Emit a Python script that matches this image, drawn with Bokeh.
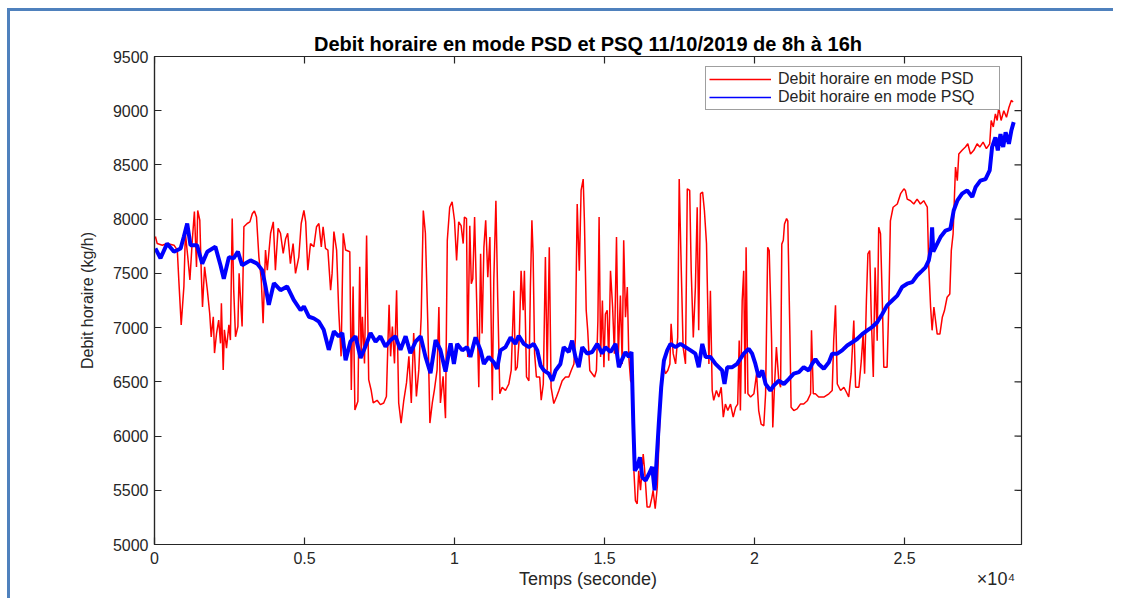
import math
from bokeh.plotting import figure
from bokeh.models import Range1d, FixedTicker, Legend, LegendItem, Title, LinearAxis
from bokeh.embed import file_html
from bokeh.resources import INLINE

FONT = "Liberation Sans"

title_text = "Debit horaire en mode PSD et PSQ 11/10/2019 de 8h à 16h"
x_label = "Temps (seconde)"
y_label = "Debit horaire (kg/h)"
psd_label = "Debit horaire en mode PSD"
psq_label = "Debit horaire en mode PSQ"
x_exponent = "×10⁴"

x_ticks = [0, 5000, 10000, 15000, 20000, 25000]
x_tick_labels = ["0", "0.5", "1", "1.5", "2", "2.5"]
y_ticks = [5000, 5500, 6000, 6500, 7000, 7500, 8000, 8500, 9000, 9500]

# PSD (red) — time in seconds, flow in kg/h
red_time = [
    30, 90, 260, 420, 650, 760, 810, 890, 980, 1030,
    1110, 1180, 1260, 1330, 1400, 1440, 1510, 1560, 1600, 1670,
    1760, 1840, 1890, 1960, 2000, 2070, 2140, 2200, 2230, 2290,
    2330, 2400, 2480, 2530, 2590, 2640, 2700, 2780, 2820, 2870,
    2920, 2980, 3090, 3180, 3260, 3330, 3400, 3480, 3560, 3620,
    3700, 3760, 3870, 3960, 4030, 4120, 4200, 4290, 4370, 4440,
    4530, 4620, 4700, 4810, 4890, 4980, 5040,
    5110, 5200, 5310, 5400, 5480, 5560, 5620, 5700, 5780, 5870,
    5920, 5980, 6070, 6140, 6220, 6290, 6370, 6510, 6560, 6620,
    6680, 6780, 6840, 6890, 6930, 7000, 7070, 7140, 7220, 7290,
    7420, 7530, 7640, 7730, 7780, 7820, 7870, 7930, 8000, 8070,
    8140, 8220, 8310, 8400, 8480, 8560, 8640, 8730, 8810, 8890,
    8960, 9030, 9110, 9180, 9260, 9330, 9420, 9480, 9530, 9620,
    9700, 9760, 9840, 9920,
    10000, 10070, 10140, 10220, 10290, 10330, 10400, 10440, 10510, 10560,
    10610, 10670, 10730, 10810, 10870, 10920, 10980, 11040, 11110, 11180,
    11260, 11310, 11380, 11440, 11510, 11590, 11700, 11810, 11890, 11980,
    12030, 12090, 12160, 12220, 12290, 12330, 12400, 12480, 12530, 12580,
    12620, 12670, 12730, 12840, 12890, 12960, 13030, 13090, 13160, 13220,
    13310, 13400, 13480, 13590, 13700, 13810, 13890, 13980, 14030, 14090,
    14160, 14220, 14290, 14330, 14390, 14440, 14510, 14590, 14670, 14730,
    14780, 14820, 14870, 14930, 14980, 15030, 15090, 15140, 15200, 15270,
    15330, 15400, 15460, 15530, 15590, 15640, 15700, 15760, 15810, 15870,
    15930, 15980, 16030, 16090, 16140, 16200, 16290, 16340, 16420, 16510,
    16580, 16620, 16690, 16760, 16820, 16890, 16960, 17030, 17110, 17180,
    17220, 17290, 17370, 17440, 17490, 17560, 17620, 17700, 17760, 17840,
    17890, 17960, 18030, 18090, 18140, 18200, 18270, 18330, 18400, 18480,
    18530, 18590, 18640, 18730, 18810, 18890, 18960, 19030, 19110, 19200,
    19290, 19370, 19440, 19490,
    19530, 19590, 19640, 19690, 19720, 19780, 19870, 19980, 20070, 20140,
    20220, 20310, 20370, 20440, 20490, 20530, 20570, 20610, 20670, 20730,
    20810, 20870, 20910, 20960, 21000, 21070, 21110, 21180, 21220, 21310,
    21420, 21530, 21640, 21760, 21870, 21900, 21960, 22030, 22140, 22310,
    22480, 22590, 22640, 22700, 22760, 22870, 22980, 23090, 23140, 23220,
    23310, 23370, 23480, 23560, 23620, 23670, 23730, 23780, 23840, 23890,
    23960, 24020, 24090, 24140, 24200, 24260, 24310, 24420, 24480, 24530,
    24620, 24760, 24870, 24980, 25030, 25090, 25200, 25310, 25420, 25530,
    25640, 25760, 25810, 25870, 25920, 25980, 26090, 26180, 26260, 26330,
    26420, 26510, 26560, 26620, 26700, 26760, 26810, 26920, 27030, 27110,
    27200, 27310, 27420, 27510, 27620, 27730, 27840, 27890, 27960, 28030,
    28090, 28140, 28220, 28310, 28400, 28480, 28560, 28620,
]
red_flow = [
    7840, 7775, 7760, 7775, 7760, 7715, 7440, 7025, 7380, 7870,
    7650, 7440, 7805, 8070, 7560, 8080, 7990, 7500, 7190, 7560,
    7350, 7130, 6915, 7100, 6765, 6950, 7070, 6855, 7225, 6610,
    6980, 6810, 7025, 6885, 8005, 7350, 6915, 7010, 7500, 7255,
    7010, 7930, 7960, 7975, 8050, 8075, 8020, 7650, 7440, 7040,
    7715, 7530, 7870, 7975, 7530, 7915, 7870, 7685, 7820, 7870,
    7590, 7775, 7500, 7650, 7960, 8080, 7975,
    7530, 7775, 7745, 7930, 7960, 7745, 7930, 7730, 7715, 7345,
    7500, 7885, 7715, 7160, 6735, 7870, 7715, 7700, 6425, 7380,
    6240, 6320, 7560, 6735, 7100, 6670, 7850, 6520, 6425, 6305,
    6330, 6290, 6305, 6365, 6855, 7210, 6735, 7010, 6670, 7345,
    6305, 6120, 6330, 6490, 6735, 6305, 6950, 6365, 6610, 7100,
    8080, 7870, 7040, 6120, 6305, 6425, 6610, 7190, 6305, 6550,
    6165, 7805, 8110, 8160,
    7990, 7620, 7975, 7940, 7775, 8020, 8005, 6730, 7940, 7405,
    7450, 8020, 7340, 6450, 7680, 6945, 7740, 7990, 7465, 7835,
    6330, 7435, 8170, 7280, 6390, 6450, 6420, 6480, 6605, 7340,
    6605, 6635, 6910, 7525, 7160, 7525, 6545, 6510, 7375, 7990,
    7680, 6760, 6545, 6545, 6330, 6480, 7650, 6605, 7740, 6450,
    6300, 6360, 6420, 6510, 6545, 6545, 6605, 6665, 6910, 8140,
    7525, 8265, 8370, 7990, 7160, 6975, 6605, 6575, 6545, 6605,
    7065, 8020, 6730, 7250, 6635, 7125, 7160, 6695, 7525, 7190,
    6760, 7835, 6730, 7295, 6665, 7805, 7095, 7375, 6730, 6510,
    6480, 5680, 5405, 5375, 5680, 5500, 5835, 5680, 5345, 5345,
    5435, 5500, 5330, 5530, 5990, 6450, 6665, 6575, 6605, 6665,
    7035, 6760, 6665, 6910, 8370, 7525, 6820, 6665, 8280, 8265,
    7525, 6910, 7375, 8110, 6975, 8235, 8250, 8080, 7775, 6665,
    7340, 6420, 6330, 6420, 6360, 6450, 6175, 6295, 6235, 6295,
    6175, 6265, 6295, 6880,
    6235, 7250, 7525, 6390, 7740, 6390, 6360, 6390, 6575, 6235,
    6110, 6095, 6390, 7740, 7710, 7310, 6880, 6080, 6480, 6820,
    6510, 6450, 7770, 7805, 7955, 8005, 7985, 6940, 6265, 6235,
    6250, 6295, 6295, 6325, 6390, 6975, 6390, 6390, 6360, 6360,
    6390, 6420, 6880, 7205, 6480, 6420, 6450, 6390, 6360, 6575,
    7065, 6450, 6450, 6695, 6940, 6575, 7250, 7680, 7710, 7125,
    6545, 7555, 6880, 7925, 7865, 7250, 6635, 6635, 7250, 7985,
    8110, 8140, 8235, 8280, 8265, 8185, 8170, 8140, 8185, 8140,
    8170, 8110, 7555, 7190, 6975, 7190, 6940, 6940, 7095, 7155,
    7280, 7310, 7710, 7865, 8480, 8355, 8600, 8635, 8665, 8695,
    8600, 8635, 8695, 8665, 8710, 8650, 8695, 8910, 8850, 8970,
    8910, 9030, 8910, 9000, 8940, 9030, 9095, 9080,
]

# PSQ (blue)
blue_time = [
    30, 200, 420, 650, 870, 980, 1090, 1200, 1420, 1590,
    1760, 2030, 2200, 2310, 2480, 2640, 2780, 2920, 3200, 3420,
    3590, 3700, 3810, 3980, 4200, 4420, 4640, 4870,
    4980, 5150, 5310, 5480, 5640, 5810, 5980, 6140, 6260, 6370,
    6530, 6700, 6870, 7030, 7200, 7370, 7530, 7700, 7870, 8030,
    8200, 8370, 8530, 8700, 8870, 9030, 9200, 9370, 9530, 9700, 9870,
    9980, 10090, 10260, 10420, 10530, 10700, 10870, 10980, 11140, 11310,
    11420, 11530, 11700, 11870, 12030, 12140, 12310, 12480, 12640, 12760,
    12870, 12980, 13140, 13260, 13370, 13530, 13640, 13810, 13920, 14030,
    14140, 14260, 14420, 14590, 14760, 14920, 15030, 15200, 15370, 15480,
    15590, 15700, 15810, 15900, 15960, 16010, 16090, 16180, 16260, 16370,
    16480, 16590, 16670, 16730, 16810, 16890, 16980, 17090, 17200, 17370,
    17530, 17700, 17870, 18030, 18140, 18260, 18370, 18530, 18700, 18810,
    18920, 19000, 19090, 19260, 19420,
    19640, 19810, 19920, 20030, 20140, 20260, 20370, 20530, 20640, 20810,
    20980, 21140, 21310, 21480, 21640, 21810, 21920, 22030, 22140, 22310,
    22480, 22590, 22760, 22920, 23090, 23260, 23420, 23590, 23760, 23920,
    24090, 24260, 24420, 24590, 24760, 24920, 25090, 25260, 25420, 25590,
    25700, 25810, 25890, 25920, 25960, 26030, 26200, 26370, 26530, 26640,
    26760, 26920, 27090, 27260, 27370, 27530, 27700, 27840, 27920, 28030,
    28110, 28200, 28290, 28370, 28480, 28560, 28640,
]
blue_flow = [
    7730, 7640, 7775, 7700, 7730, 7840, 7960, 7760, 7760, 7590,
    7700, 7745, 7575, 7450, 7650, 7640, 7700, 7575, 7620, 7590,
    7530, 7380, 7210, 7410, 7345, 7380, 7255, 7160,
    7195, 7100, 7085, 7055, 6980, 6795, 6965, 6920, 6950, 6700,
    6870, 6920, 6720, 6825, 6950, 6870, 6920, 6825, 6885, 6920,
    6795, 6920, 6765, 6870, 6920, 6735, 6580, 6885, 6795, 6595, 6855,
    6665, 6850, 6790, 6820, 6730, 6910, 6790, 6665, 6730, 6680,
    6620, 6790, 6820, 6910, 6850, 6925, 6850, 6820, 6850, 6790,
    6650, 6605, 6575, 6510, 6605, 6665, 6820, 6775, 6880, 6730,
    6635, 6820, 6760, 6775, 6850, 6760, 6820, 6775, 6850, 6635,
    6710, 6775, 6730, 6775, 6115, 5680, 5715, 5805, 5620, 5590,
    5650, 5715, 5500, 5745, 6115, 6450, 6695, 6790, 6850, 6820,
    6850, 6820, 6790, 6760, 6635, 6850, 6730, 6730, 6665, 6635,
    6605, 6480, 6635, 6635, 6665,
    6760, 6805, 6760, 6665, 6545, 6605, 6480, 6420, 6465, 6510,
    6480, 6525, 6575, 6590, 6635, 6605, 6665, 6710, 6665, 6620,
    6680, 6760, 6760, 6790, 6835, 6865, 6895, 6940, 6975, 7005,
    7050, 7125, 7205, 7250, 7295, 7375, 7405, 7420, 7480, 7525,
    7555, 7620, 7740, 7925, 7700, 7740, 7835, 7895, 7910, 8080,
    8170, 8235, 8265, 8205, 8295, 8355, 8370, 8450, 8665, 8755,
    8635, 8785, 8665, 8800, 8695, 8815, 8895,
]

assert len(red_time) == len(red_flow)
assert len(blue_time) == len(blue_flow)

X_MIN, X_MAX = 0, 28900
Y_MIN, Y_MAX = 5000, 9500
DARK = "#262626"
RED = "#ff0000"
BLUE = "#0000ff"

p = figure(width=1106, height=590, output_backend="svg", toolbar_location=None,
           x_range=Range1d(X_MIN, X_MAX), y_range=Range1d(Y_MIN, Y_MAX),
           min_border_left=144, min_border_right=95, min_border_top=45, min_border_bottom=57,
           background_fill_color="white", border_fill_color="white")
p.outline_line_color = DARK
p.outline_line_width = 1.2
p.grid.grid_line_color = None
p.styles = {"border-top": "3px solid #4f81bd", "border-left": "3px solid #4f81bd",
            "margin-left": "7px", "margin-top": "8px"}

x_overrides = {t: lab for t, lab in zip(x_ticks, x_tick_labels)}

def style_axis(ax):
    ax.axis_line_color = DARK
    ax.axis_line_width = 1.2
    ax.major_tick_line_color = DARK
    ax.major_tick_line_width = 1.2
    ax.major_tick_in = 7
    ax.major_tick_out = 0
    ax.minor_tick_line_color = None
    ax.major_label_text_font = FONT
    ax.major_label_text_color = DARK
    ax.major_label_text_font_size = "16px"
    ax.axis_label_text_font = FONT
    ax.axis_label_text_font_style = "normal"
    ax.axis_label_text_color = DARK

xb = p.xaxis[0]
xb.ticker = FixedTicker(ticks=x_ticks)
xb.major_label_overrides = x_overrides
style_axis(xb)
xb.major_label_standoff = 7

# second row under the tick labels: axis title centred on the frame, exponent at the right end
x_title_pos = (X_MIN + X_MAX) / 2
x_exp_pos = 28050
xt = LinearAxis(ticker=FixedTicker(ticks=[x_title_pos, x_exp_pos]),
                major_label_overrides={x_title_pos: x_label, x_exp_pos: x_exponent})
xt.axis_line_color = None
xt.major_tick_line_color = None
xt.major_tick_in = 0
xt.major_tick_out = 0
xt.minor_tick_line_color = None
xt.major_label_standoff = 2
xt.major_label_text_font = FONT
xt.major_label_text_font_size = "18px"
xt.major_label_text_color = DARK
p.add_layout(xt, "below")

yl = p.yaxis[0]
yl.ticker = FixedTicker(ticks=y_ticks)
style_axis(yl)
yl.axis_label = y_label
yl.axis_label_text_font_size = "16px"
yl.major_label_standoff = 6
yl.axis_label_standoff = 14

# inward ticks on the top and right edges of the box (half of each dash is clipped)
p.scatter(x=x_ticks, y=[Y_MAX] * len(x_ticks), marker="dash", size=14, angle=math.pi / 2,
          line_color=DARK, line_width=1.2)
p.scatter(x=[X_MAX] * len(y_ticks), y=y_ticks, marker="dash", size=14,
          line_color=DARK, line_width=1.2)

r_red = p.line(red_time, red_flow, line_color=RED, line_width=1.5)
r_blue = p.line(blue_time, blue_flow, line_color=BLUE, line_width=4)

# legend swatches drawn with the thin MATLAB-style line (no visible data)
key_red = p.line([math.nan], [math.nan], line_color=RED, line_width=1.3)
key_blue = p.line([math.nan], [math.nan], line_color=BLUE, line_width=1.6)

legend = Legend(items=[LegendItem(label=psd_label, renderers=[key_red]),
                       LegendItem(label=psq_label, renderers=[key_blue])],
                location=(551, 434), orientation="vertical",
                border_line_color="#404040", border_line_width=1,
                background_fill_color="white", background_fill_alpha=1.0,
                label_text_font=FONT, label_text_font_size="16px", label_text_color=DARK,
                padding=3, spacing=0, margin=0, glyph_width=62, glyph_height=16,
                label_height=16, label_width=218, label_standoff=7)
p.add_layout(legend)

p.add_layout(Title(text=title_text, align="center", text_font=FONT, text_font_size="20px",
                   text_font_style="bold", text_color="black", standoff=4), "above")

open("out.html", "w").write(file_html(p, INLINE))
